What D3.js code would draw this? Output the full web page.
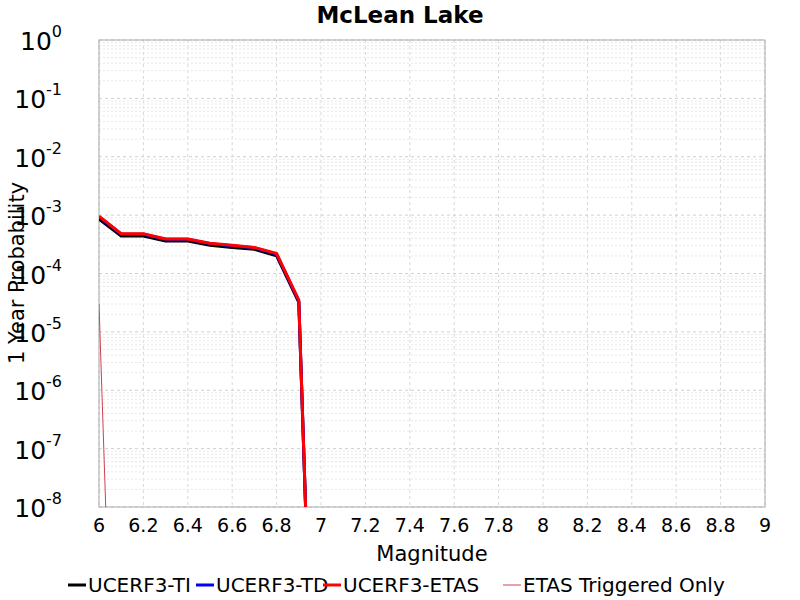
<!DOCTYPE html>
<html><head><meta charset="utf-8">
<script src="https://cdn.jsdelivr.net/npm/d3@7"></script>
<style>body{margin:0;background:#fff;font-family:"DejaVu Sans",sans-serif}</style>
</head><body><svg id="chart" width="800" height="600"></svg>
<script>
var mags = [6.0, 6.1, 6.2, 6.3, 6.4, 6.5, 6.6, 6.7, 6.8, 6.9, 7.0];
var tiVals = [8.5e-4, 4.4e-4, 4.4e-4, 3.6e-4, 3.6e-4, 3.05e-4, 2.8e-4, 2.6e-4, 2.0e-4, 3.2e-5, 1e-16];
var tdVals = [9.3e-4, 4.7e-4, 4.7e-4, 3.85e-4, 3.85e-4, 3.25e-4, 3.0e-4, 2.75e-4, 2.15e-4, 3.4e-5, 1e-16];
var etasVals = [9.6e-4, 4.8e-4, 4.8e-4, 3.9e-4, 3.9e-4, 3.3e-4, 3.05e-4, 2.8e-4, 2.2e-4, 3.5e-5, 1e-16];
var trigVals = [3e-5, 1e-16];
var xTicks = [6, 6.2, 6.4, 6.6, 6.8, 7, 7.2, 7.4, 7.6, 7.8, 8, 8.2, 8.4, 8.6, 8.8, 9];
var yExps = [0, -1, -2, -3, -4, -5, -6, -7, -8];
var series = [
    {name: "UCERF3-TI", vals: tiVals, color: "#000", w: 3},
    {name: "UCERF3-TD", vals: tdVals, color: "#0000ff", w: 3},
    {name: "UCERF3-ETAS", vals: etasVals, color: "#ff0000", w: 3},
    {name: "ETAS Triggered Only", vals: trigVals, color: "#d04050", w: 1}
];

var pLeft = 99, pRight = 765, pTop = 40, pBottom = 507;
var svg = d3.select("#chart");
var x = d3.scaleLinear().domain([6, 9]).range([pLeft, pRight]);
var y = d3.scaleLog().domain([1e-8, 1]).range([pBottom, pTop]);

svg.append("defs").append("clipPath").attr("id", "clip")
    .append("rect").attr("x", pLeft).attr("y", pTop).attr("width", pRight - pLeft).attr("height", pBottom - pTop);

// grid
var grid = svg.append("g");
xTicks.forEach(function (t) {
    grid.append("line").attr("x1", x(t)).attr("x2", x(t)).attr("y1", pTop).attr("y2", pBottom)
        .attr("stroke", "#d8d8d8").attr("stroke-dasharray", "3,3");
});
yExps.forEach(function (e) {
    grid.append("line").attr("x1", pLeft).attr("x2", pRight).attr("y1", y(Math.pow(10, e))).attr("y2", y(Math.pow(10, e)))
        .attr("stroke", "#d0d0d0").attr("stroke-dasharray", "3,3");
    if (e < 0) {
        for (var k = 2; k <= 9; k++) {
            var v = k * Math.pow(10, e);
            grid.append("line").attr("x1", pLeft).attr("x2", pRight).attr("y1", y(v)).attr("y2", y(v))
                .attr("stroke", "#e8e8e8").attr("stroke-dasharray", "2,2");
        }
    }
});
svg.append("rect").attr("x", pLeft).attr("y", pTop).attr("width", pRight - pLeft).attr("height", pBottom - pTop)
    .attr("fill", "none").attr("stroke", "#aaa");

// lines
var line = d3.line().x(function (d, i) { return x(mags[i]); }).y(function (d) { return y(d); });
var plot = svg.append("g").attr("clip-path", "url(#clip)");
series.forEach(function (s) {
    plot.append("path").datum(s.vals).attr("d", line).attr("fill", "none")
        .attr("stroke", s.color).attr("stroke-width", s.w).attr("stroke-linejoin", "round");
});

// axes labels
xTicks.forEach(function (t) {
    svg.append("text").attr("x", x(t)).attr("y", 532).attr("text-anchor", "middle")
        .attr("font-size", 19).text(d3.format("~g")(t));
});
yExps.forEach(function (e) {
    var tx = svg.append("text").attr("x", 62).attr("y", y(Math.pow(10, e)) + 10).attr("text-anchor", "end")
        .attr("font-size", 25);
    tx.append("tspan").text("10");
    tx.append("tspan").attr("font-size", 16).attr("dy", -13).text(e);
});
svg.append("text").attr("x", 432).attr("y", 561).attr("text-anchor", "middle").attr("font-size", 21).text("Magnitude");
svg.append("text").attr("transform", "translate(24,273) rotate(-90)").attr("text-anchor", "middle")
    .attr("font-size", 21).text("1 Year Probability");
svg.append("text").attr("x", 400).attr("y", 23).attr("text-anchor", "middle").attr("font-size", 23)
    .attr("font-weight", "bold").text("McLean Lake");

// legend
var lx = [68, 196, 323, 503];
series.forEach(function (s, i) {
    svg.append("line").attr("x1", lx[i]).attr("x2", lx[i] + 18).attr("y1", 585).attr("y2", 585)
        .attr("stroke", s.color).attr("stroke-width", s.w);
    svg.append("text").attr("x", lx[i] + 20).attr("y", 592).attr("font-size", 20).text(s.name);
});
</script></body></html>
